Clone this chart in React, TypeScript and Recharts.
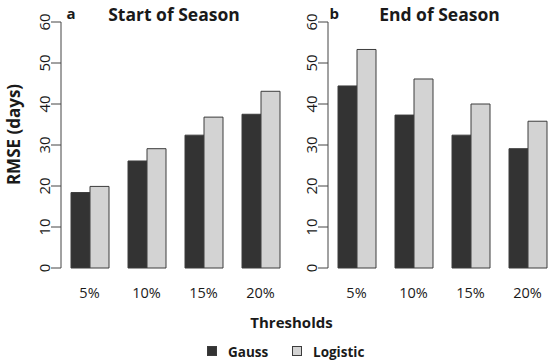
import React from 'react';
import { BarChart, Bar, XAxis, YAxis } from 'recharts';

const thresholds = ['5%', '10%', '15%', '20%'];
const startGauss = [18.4, 26.1, 32.4, 37.5];
const startLogistic = [19.9, 29.1, 36.8, 43.1];
const endGauss = [44.4, 37.3, 32.4, 29.1];
const endLogistic = [53.3, 46.1, 40.0, 35.8];
const yTicks = [0, 10, 20, 30, 40, 50, 60];
const seriesNames = ['Gauss', 'Logistic'];

const startData = thresholds.map((t, i) => ({ t, gauss: startGauss[i], logistic: startLogistic[i] }));
const endData = thresholds.map((t, i) => ({ t, gauss: endGauss[i], logistic: endLogistic[i] }));

const FONT = '"Open Sans", sans-serif';
const TEXT = '#1a1a1a';
const AXIS = '#444444';
const DARK = '#333333';
const LIGHT = '#d3d3d3';
const EDGE = '#3c3c3c';

const XTick = (props: any) => {
  const { x, y, payload } = props;
  return (
    <text x={x} y={y + 29.5} textAnchor="middle" fontFamily={FONT} fontSize={14.5} fill={TEXT}>
      {payload.value}
    </text>
  );
};

const YTick = (props: any) => {
  const { x, y, payload } = props;
  const bx = x - 1.5;
  return (
    <text
      x={bx}
      y={y}
      transform={`rotate(-90 ${bx} ${y})`}
      textAnchor="middle"
      fontFamily={FONT}
      fontSize={15}
      fill={TEXT}
    >
      {payload.value}
    </text>
  );
};

const Panel = ({ data, yWidth, width }: { data: any[]; yWidth: number; width: number }) => (
  <BarChart
    width={width}
    height={362}
    data={data}
    margin={{ top: 22, right: width - yWidth - 228, bottom: 64, left: 0 }}
    barGap={0}
    barSize={19}
  >
    <XAxis
      dataKey="t"
      axisLine={false}
      tickLine={false}
      tickSize={0}
      tickMargin={0}
      height={30}
      tick={<XTick />}
      interval={0}
    />
    <YAxis
      domain={[0, 60]}
      ticks={yTicks}
      width={yWidth}
      tickSize={10}
      tickMargin={0}
      axisLine={{ stroke: AXIS, strokeWidth: 1 }}
      tickLine={{ stroke: AXIS, strokeWidth: 1 }}
      tick={<YTick />}
      interval={0}
    />
    <Bar dataKey="gauss" fill={DARK} stroke={EDGE} strokeWidth={1} isAnimationActive={false} />
    <Bar dataKey="logistic" fill={LIGHT} stroke={EDGE} strokeWidth={1} isAnimationActive={false} />
  </BarChart>
);

export default function App() {
  return (
    <div
      style={{
        position: 'absolute',
        left: 0,
        top: 0,
        width: 550,
        height: 362,
        overflow: 'hidden',
        background: '#ffffff',
      }}
    >
      <div style={{ position: 'absolute', left: 0, top: 0 }}>
        <Panel data={startData} yWidth={61} width={300} />
      </div>
      <div style={{ position: 'absolute', left: 270, top: 0 }}>
        <Panel data={endData} yWidth={58} width={290} />
      </div>
      <svg
        width={550}
        height={362}
        style={{ position: 'absolute', left: 0, top: 0, pointerEvents: 'none' }}
      >
        <g fontFamily={FONT} fill={TEXT} fontWeight="bold">
          <text x={66.5} y={18.5} fontSize={15}>a</text>
          <text x={174} y={20.5} fontSize={17.5} textAnchor="middle">Start of Season</text>
          <text x={329.5} y={18.5} fontSize={15}>b</text>
          <text x={439.5} y={20.5} fontSize={17.5} textAnchor="middle">End of Season</text>
          <text
            x={20}
            y={134.5}
            fontSize={17}
            textAnchor="middle"
            transform="rotate(-90 20 134.5)"
          >
            RMSE (days)
          </text>
          <text x={291.5} y={327.5} fontSize={15} textAnchor="middle">Thresholds</text>
          <rect x={207.5} y={346.5} width={9} height={9} fill={DARK} stroke={EDGE} strokeWidth={1} />
          <text x={228} y={356.5} fontSize={13.5}>{seriesNames[0]}</text>
          <rect x={292.5} y={346.5} width={9} height={9} fill={LIGHT} stroke={EDGE} strokeWidth={1} />
          <text x={313} y={356.5} fontSize={13.5}>{seriesNames[1]}</text>
        </g>
      </svg>
    </div>
  );
}
